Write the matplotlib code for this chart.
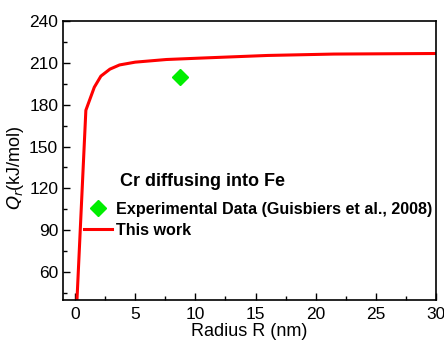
import matplotlib
matplotlib.use("Agg")
import matplotlib.pyplot as plt
from matplotlib.ticker import MultipleLocator

plt.rcParams['font.family'] = ['Liberation Sans', 'DejaVu Sans']

# ---- data ----
radius = [0.15, 0.9, 1.6, 2.15, 2.9, 3.7, 5.0, 7.6, 10.4, 16.0, 21.5, 30.0]
q_model = [38, 176, 192.5, 200.5, 205.5, 208.5, 210.5, 212.4, 213.4, 215.3, 216.3, 216.7]
r_exp = [8.75]
q_exp = [200.2]

W, H = 444, 340
fig = plt.figure(figsize=(W/100, H/100), dpi=100)
ax = fig.add_axes([63/W, 1 - 300/H, 373/W, 279/H])

ax.plot(r_exp, q_exp, linestyle='none', marker='D', color='#00ee00',
        markersize=8, label='Experimental Data (Guisbiers et al., 2008)')
ax.plot(radius, q_model, color='#ff0000', linewidth=2.2, label='This work')

ax.set_xlim(-1, 30)
ax.set_ylim(40, 240)
ax.xaxis.set_major_locator(MultipleLocator(5))
ax.xaxis.set_minor_locator(MultipleLocator(2.5))
ax.yaxis.set_major_locator(MultipleLocator(30))
ax.yaxis.set_minor_locator(MultipleLocator(15))
ax.tick_params(which='both', direction='in', labelsize=12.5, width=1)
ax.tick_params(which='major', length=5)
ax.tick_params(which='minor', length=3)
ax.tick_params(axis='x', pad=5)
for s in ax.spines.values():
    s.set_linewidth(1.2)

ax.set_xlabel('Radius R (nm)', fontsize=13, labelpad=0.5)
ax.set_ylabel(r'$Q_r$(kJ/mol)', fontsize=13)
ax.yaxis.set_label_coords(-0.099, 0.473)

# legend title placed separately (it sits in line with the labels)
fig.text(120/W, 1 - 182/H, 'Cr diffusing into Fe', fontsize=13,
         fontweight='bold', va='center', ha='left')

leg = ax.legend(loc='upper left', bbox_to_anchor=(84/W, 1 - 202/H),
                bbox_transform=fig.transFigure, frameon=False,
                prop={'weight': 'bold', 'size': 11.6},
                handlelength=1.75, handletextpad=0.25, labelspacing=0.35,
                borderpad=0, borderaxespad=0)

fig.savefig('out.png', dpi=100)
